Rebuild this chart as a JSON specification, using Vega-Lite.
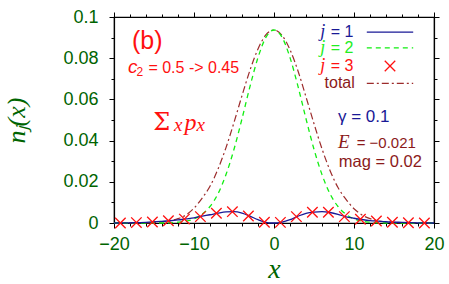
{
  "$schema": "https://vega.github.io/schema/vega-lite/v6.json",
  "width": 320,
  "height": 206,
  "autosize": {"type": "none"},
  "padding": {"left": 114, "top": 17, "right": 15, "bottom": 61},
  "background": "white",
  "data": {"values": [{}]},
  "config": {
    "view": {"stroke": "black", "strokeWidth": 1.2},
    "axis": {"grid": false, "domainColor": "black", "tickColor": "black", "domainWidth": 1.2, "tickWidth": 1, "labelFlush": false}
  },
  "datasets": {
    "curves": [
      {"x": -20, "v": 0, "s": "j1"}, {"x": -18, "v": 0.0001, "s": "j1"}, {"x": -16, "v": 0.0003, "s": "j1"}, {"x": -14, "v": 0.0008, "s": "j1"}, {"x": -13, "v": 0.0011, "s": "j1"}, {"x": -12, "v": 0.0015, "s": "j1"}, {"x": -11, "v": 0.002, "s": "j1"}, {"x": -10, "v": 0.0025, "s": "j1"}, {"x": -9, "v": 0.0033, "s": "j1"}, {"x": -8, "v": 0.004, "s": "j1"}, {"x": -7, "v": 0.0048, "s": "j1"}, {"x": -6, "v": 0.0054, "s": "j1"}, {"x": -5, "v": 0.0055, "s": "j1"}, {"x": -4, "v": 0.0048, "s": "j1"}, {"x": -3, "v": 0.0033, "s": "j1"}, {"x": -2, "v": 0.0016, "s": "j1"}, {"x": -1, "v": 0.0003, "s": "j1"}, {"x": -0.3, "v": 0, "s": "j1"}, {"x": 0.5, "v": 0.0001, "s": "j1"}, {"x": 1, "v": 0.0004, "s": "j1"}, {"x": 2, "v": 0.0016, "s": "j1"}, {"x": 3, "v": 0.0033, "s": "j1"}, {"x": 4, "v": 0.0047, "s": "j1"}, {"x": 5, "v": 0.0053, "s": "j1"}, {"x": 6, "v": 0.0055, "s": "j1"}, {"x": 7, "v": 0.0051, "s": "j1"}, {"x": 8, "v": 0.0042, "s": "j1"}, {"x": 9, "v": 0.003, "s": "j1"}, {"x": 10, "v": 0.0023, "s": "j1"}, {"x": 11, "v": 0.0017, "s": "j1"}, {"x": 12, "v": 0.0012, "s": "j1"}, {"x": 13, "v": 0.0009, "s": "j1"}, {"x": 14, "v": 0.0006, "s": "j1"}, {"x": 16, "v": 0.0003, "s": "j1"}, {"x": 18, "v": 0.0001, "s": "j1"}, {"x": 20, "v": 0, "s": "j1"},
      {"x": -20, "v": 0, "s": "j2"}, {"x": -16, "v": 0, "s": "j2"}, {"x": -14, "v": 0, "s": "j2"}, {"x": -13, "v": 0.0001, "s": "j2"}, {"x": -12, "v": 0.0004, "s": "j2"}, {"x": -11, "v": 0.0009, "s": "j2"}, {"x": -10, "v": 0.002, "s": "j2"}, {"x": -9, "v": 0.0042, "s": "j2"}, {"x": -8, "v": 0.008, "s": "j2"}, {"x": -7, "v": 0.0142, "s": "j2"}, {"x": -6, "v": 0.0235, "s": "j2"}, {"x": -5, "v": 0.0358, "s": "j2"}, {"x": -4, "v": 0.0506, "s": "j2"}, {"x": -3, "v": 0.0663, "s": "j2"}, {"x": -2, "v": 0.0803, "s": "j2"}, {"x": -1, "v": 0.0902, "s": "j2"}, {"x": 0, "v": 0.0937, "s": "j2"}, {"x": 1, "v": 0.0902, "s": "j2"}, {"x": 2, "v": 0.0803, "s": "j2"}, {"x": 3, "v": 0.0663, "s": "j2"}, {"x": 4, "v": 0.0506, "s": "j2"}, {"x": 5, "v": 0.0358, "s": "j2"}, {"x": 6, "v": 0.0235, "s": "j2"}, {"x": 7, "v": 0.0142, "s": "j2"}, {"x": 8, "v": 0.008, "s": "j2"}, {"x": 9, "v": 0.0042, "s": "j2"}, {"x": 10, "v": 0.002, "s": "j2"}, {"x": 11, "v": 0.0009, "s": "j2"}, {"x": 12, "v": 0.0004, "s": "j2"}, {"x": 13, "v": 0.0001, "s": "j2"}, {"x": 14, "v": 0, "s": "j2"}, {"x": 16, "v": 0, "s": "j2"}, {"x": 20, "v": 0, "s": "j2"},
      {"x": -20, "v": 0, "s": "tot"}, {"x": -17, "v": 0.0001, "s": "tot"}, {"x": -16, "v": 0.0001, "s": "tot"}, {"x": -15, "v": 0.0003, "s": "tot"}, {"x": -14, "v": 0.0005, "s": "tot"}, {"x": -13, "v": 0.0011, "s": "tot"}, {"x": -12, "v": 0.0021, "s": "tot"}, {"x": -11, "v": 0.0039, "s": "tot"}, {"x": -10, "v": 0.0072, "s": "tot"}, {"x": -9, "v": 0.012, "s": "tot"}, {"x": -8, "v": 0.0178, "s": "tot"}, {"x": -7, "v": 0.0262, "s": "tot"}, {"x": -6, "v": 0.0366, "s": "tot"}, {"x": -5, "v": 0.0488, "s": "tot"}, {"x": -4, "v": 0.0618, "s": "tot"}, {"x": -3, "v": 0.0742, "s": "tot"}, {"x": -2, "v": 0.0845, "s": "tot"}, {"x": -1, "v": 0.0914, "s": "tot"}, {"x": 0, "v": 0.0937, "s": "tot"}, {"x": 1, "v": 0.0911, "s": "tot"}, {"x": 2, "v": 0.0841, "s": "tot"}, {"x": 3, "v": 0.0738, "s": "tot"}, {"x": 4, "v": 0.0612, "s": "tot"}, {"x": 5, "v": 0.0482, "s": "tot"}, {"x": 6, "v": 0.036, "s": "tot"}, {"x": 7, "v": 0.0255, "s": "tot"}, {"x": 8, "v": 0.0172, "s": "tot"}, {"x": 9, "v": 0.0115, "s": "tot"}, {"x": 10, "v": 0.0069, "s": "tot"}, {"x": 11, "v": 0.0039, "s": "tot"}, {"x": 12, "v": 0.0021, "s": "tot"}, {"x": 13, "v": 0.0011, "s": "tot"}, {"x": 14, "v": 0.0005, "s": "tot"}, {"x": 15, "v": 0.0003, "s": "tot"}, {"x": 16, "v": 0.0001, "s": "tot"}, {"x": 17, "v": 0.0001, "s": "tot"}, {"x": 20, "v": 0, "s": "tot"}
    ],
    "markers": [
      {"x": -19.2, "v": 0}, {"x": -17.2, "v": 0.0002}, {"x": -15.2, "v": 0.0005}, {"x": -13.2, "v": 0.0011}, {"x": -11.2, "v": 0.0019}, {"x": -9.2, "v": 0.0031}, {"x": -7.2, "v": 0.0047}, {"x": -5.2, "v": 0.0055}, {"x": -3.2, "v": 0.0034}, {"x": -1.2, "v": 0.0004}, {"x": 0.8, "v": 0.0003}, {"x": 2.8, "v": 0.0031}, {"x": 4.8, "v": 0.0052}, {"x": 6.8, "v": 0.0052}, {"x": 8.8, "v": 0.0031}, {"x": 10.8, "v": 0.0018}, {"x": 12.8, "v": 0.001}, {"x": 14.8, "v": 0.0004}, {"x": 16.8, "v": 0.0001}, {"x": 18.8, "v": 0}
    ]
  },
  "resolve": {"axis": {"x": "independent", "y": "independent"}},
  "layer": [
    {
      "data": {"name": "curves"},
      "transform": [{"filter": "datum.s === 'tot'"}],
      "mark": {"type": "line", "color": "#9c2b2b", "strokeWidth": 1.2, "strokeDash": [7, 3, 2, 3], "interpolate": "monotone"},
      "encoding": {
        "x": {"field": "x", "type": "quantitative", "scale": {"domain": [-20, 20], "nice": false},
          "axis": {"orient": "bottom", "values": [-20, -10, 0, 10, 20], "tickSize": 5, "labelPadding": 7, "labelFont": "Liberation Sans", "labelFontSize": 18, "labelColor": "#006400", "title": "x", "titleFont": "Liberation Serif", "titleFontStyle": "italic", "titleFontWeight": "normal", "titleFontSize": 28, "titleColor": "#006400", "titlePadding": 2}},
        "y": {"field": "v", "type": "quantitative", "scale": {"domain": [0, 0.1], "nice": false, "zero": true},
          "axis": {"orient": "left", "values": [0, 0.02, 0.04, 0.06, 0.08, 0.1], "format": "~g", "tickSize": 5, "labelPadding": 11, "labelFont": "Liberation Sans", "labelFontSize": 18, "labelColor": "#006400", "title": "nⱼ(x)", "titleFont": "Liberation Serif", "titleFontStyle": "italic", "titleFontWeight": "normal", "titleFontSize": 26, "titleColor": "#006400", "titlePadding": 33}}
      }
    },
    {
      "data": {"name": "curves"},
      "transform": [{"filter": "datum.s === 'j2'"}],
      "mark": {"type": "line", "color": "#11ee11", "strokeWidth": 1.3, "strokeDash": [5, 4], "interpolate": "monotone"},
      "encoding": {
        "x": {"field": "x", "type": "quantitative", "axis": {"orient": "bottom", "values": [-18, -16, -14, -12, -8, -6, -4, -2, 2, 4, 6, 8, 12, 14, 16, 18], "tickSize": 3, "labels": false, "domain": false, "title": null}},
        "y": {"field": "v", "type": "quantitative", "axis": {"orient": "left", "values": [0.01, 0.03, 0.05, 0.07, 0.09], "tickSize": 3, "labels": false, "domain": false, "title": null}}
      }
    },
    {
      "data": {"name": "curves"},
      "transform": [{"filter": "datum.s === 'j1'"}],
      "mark": {"type": "line", "color": "#191996", "strokeWidth": 1.3, "interpolate": "monotone"},
      "encoding": {
        "x": {"field": "x", "type": "quantitative", "axis": {"orient": "top", "values": [-20, -10, 0, 10, 20], "tickSize": 5, "labels": false, "title": null}},
        "y": {"field": "v", "type": "quantitative", "axis": {"orient": "right", "values": [0, 0.02, 0.04, 0.06, 0.08, 0.1], "tickSize": 5, "labels": false, "title": null}}
      }
    },
    {
      "data": {"name": "markers"},
      "mark": {"type": "point", "shape": "M-1,-1L1,1M-1,1L1,-1", "filled": false, "color": "#ff1010", "strokeWidth": 1.3, "size": 110, "opacity": 1},
      "encoding": {
        "x": {"field": "x", "type": "quantitative", "axis": {"orient": "top", "values": [-18, -16, -14, -12, -8, -6, -4, -2, 2, 4, 6, 8, 12, 14, 16, 18], "tickSize": 3, "labels": false, "domain": false, "title": null}},
        "y": {"field": "v", "type": "quantitative", "axis": {"orient": "right", "values": [0.01, 0.03, 0.05, 0.07, 0.09], "tickSize": 3, "labels": false, "domain": false, "title": null}}
      }
    },
    {
      "mark": {"type": "rule", "color": "#191996", "strokeWidth": 1.3},
      "encoding": {"x": {"datum": 11.6, "type": "quantitative", "axis": null}, "x2": {"datum": 17.4}, "y": {"datum": 0.0927, "type": "quantitative", "axis": null}}
    },
    {
      "mark": {"type": "rule", "color": "#11ee11", "strokeWidth": 1.3, "strokeDash": [5, 4]},
      "encoding": {"x": {"datum": 11.6, "type": "quantitative", "axis": null}, "x2": {"datum": 17.4}, "y": {"datum": 0.085, "type": "quantitative", "axis": null}}
    },
    {
      "mark": {"type": "rule", "color": "#9c2b2b", "strokeWidth": 1.2, "strokeDash": [7, 3, 2, 3]},
      "encoding": {"x": {"datum": 11.6, "type": "quantitative", "axis": null}, "x2": {"datum": 17.4}, "y": {"datum": 0.0678, "type": "quantitative", "axis": null}}
    },
    {
      "mark": {"type": "point", "shape": "M-1,-1L1,1M-1,1L1,-1", "filled": false, "color": "#ff1010", "strokeWidth": 1.3, "size": 110, "opacity": 1},
      "encoding": {"x": {"datum": 14.5, "type": "quantitative", "axis": null}, "y": {"datum": 0.0762, "type": "quantitative", "axis": null}}
    },
    {
      "data": {"values": [
        {"t": "j", "x": 6.4, "v": 0.0904, "c": "#191996"},
        {"t": "j", "x": 6.4, "v": 0.0825, "c": "#22ee22"},
        {"t": "j", "x": 6.4, "v": 0.0739, "c": "#ff1010"}
      ]},
      "mark": {"type": "text", "align": "right", "baseline": "alphabetic", "font": "Liberation Serif", "fontStyle": "italic", "fontSize": 18},
      "encoding": {"x": {"field": "x", "type": "quantitative", "axis": null}, "y": {"field": "v", "type": "quantitative", "axis": null}, "text": {"field": "t"}, "color": {"field": "c", "type": "nominal", "scale": null}}
    },
    {
      "data": {"values": [
        {"t": "= 1", "x": 7.1, "v": 0.0904, "c": "#191996"},
        {"t": "= 2", "x": 7.1, "v": 0.0825, "c": "#22ee22"},
        {"t": "= 3", "x": 7.1, "v": 0.0739, "c": "#ff1010"}
      ]},
      "mark": {"type": "text", "align": "left", "baseline": "alphabetic", "font": "Liberation Sans", "fontSize": 16},
      "encoding": {"x": {"field": "x", "type": "quantitative", "axis": null}, "y": {"field": "v", "type": "quantitative", "axis": null}, "text": {"field": "t"}, "color": {"field": "c", "type": "nominal", "scale": null}}
    },
    {
      "mark": {"type": "text", "align": "right", "baseline": "alphabetic", "font": "Liberation Sans", "fontSize": 16, "color": "#8b1a1a", "text": "total"},
      "encoding": {"x": {"datum": 10.1, "type": "quantitative", "axis": null}, "y": {"datum": 0.0655, "type": "quantitative", "axis": null}}
    },
    {
      "mark": {"type": "text", "align": "left", "baseline": "alphabetic", "font": "Liberation Sans", "fontSize": 25, "color": "#ff1010", "text": "(b)"},
      "encoding": {"x": {"datum": -17.75, "type": "quantitative", "axis": null}, "y": {"datum": 0.0845, "type": "quantitative", "axis": null}}
    },
    {
      "mark": {"type": "text", "align": "left", "baseline": "alphabetic", "font": "Liberation Sans", "fontStyle": "italic", "fontSize": 19, "color": "#ff1010", "text": "c"},
      "encoding": {"x": {"datum": -18.25, "type": "quantitative", "axis": null}, "y": {"datum": 0.0728, "type": "quantitative", "axis": null}}
    },
    {
      "mark": {"type": "text", "align": "left", "baseline": "alphabetic", "font": "Liberation Sans", "fontSize": 12, "color": "#ff1010", "text": "2"},
      "encoding": {"x": {"datum": -17.2, "type": "quantitative", "axis": null}, "y": {"datum": 0.0714, "type": "quantitative", "axis": null}}
    },
    {
      "mark": {"type": "text", "align": "left", "baseline": "alphabetic", "font": "Liberation Sans", "fontSize": 16, "color": "#ff1010", "text": "= 0.5 -> 0.45"},
      "encoding": {"x": {"datum": -15.7, "type": "quantitative", "axis": null}, "y": {"datum": 0.0728, "type": "quantitative", "axis": null}}
    },
    {
      "mark": {"type": "text", "align": "left", "baseline": "alphabetic", "font": "DejaVu Serif", "fontSize": 24, "color": "#ff1010", "text": "Σ"},
      "encoding": {"x": {"datum": -15.1, "type": "quantitative", "axis": null}, "y": {"datum": 0.0451, "type": "quantitative", "axis": null}}
    },
    {
      "data": {"values": [
        {"t": "x", "x": -12.5, "v": 0.0446, "f": 19},
        {"t": "p", "x": -11.2, "v": 0.0451, "f": 24},
        {"t": "x", "x": -9.7, "v": 0.0446, "f": 19}
      ]},
      "mark": {"type": "text", "align": "left", "baseline": "alphabetic", "font": "Liberation Serif", "fontStyle": "italic", "color": "#ff1010"},
      "encoding": {"x": {"field": "x", "type": "quantitative", "axis": null}, "y": {"field": "v", "type": "quantitative", "axis": null}, "text": {"field": "t"}, "size": {"field": "f", "type": "quantitative", "scale": null}}
    },
    {
      "mark": {"type": "text", "align": "left", "baseline": "alphabetic", "font": "Liberation Sans", "fontSize": 17, "color": "#191996", "text": "γ = 0.1"},
      "encoding": {"x": {"datum": 8.0, "type": "quantitative", "axis": null}, "y": {"datum": 0.049, "type": "quantitative", "axis": null}}
    },
    {
      "mark": {"type": "text", "align": "left", "baseline": "alphabetic", "font": "Liberation Serif", "fontStyle": "italic", "fontSize": 19, "color": "#8b1a1a", "text": "E"},
      "encoding": {"x": {"datum": 8.0, "type": "quantitative", "axis": null}, "y": {"datum": 0.0364, "type": "quantitative", "axis": null}}
    },
    {
      "mark": {"type": "text", "align": "left", "baseline": "alphabetic", "font": "Liberation Sans", "fontSize": 15, "color": "#8b1a1a", "text": "= −0.021"},
      "encoding": {"x": {"datum": 10.33, "type": "quantitative", "axis": null}, "y": {"datum": 0.0364, "type": "quantitative", "axis": null}}
    },
    {
      "mark": {"type": "text", "align": "left", "baseline": "alphabetic", "font": "Liberation Sans", "fontSize": 16.5, "color": "#8b1a1a", "text": "mag = 0.02"},
      "encoding": {"x": {"datum": 8.1, "type": "quantitative", "axis": null}, "y": {"datum": 0.0272, "type": "quantitative", "axis": null}}
    }
  ]
}
